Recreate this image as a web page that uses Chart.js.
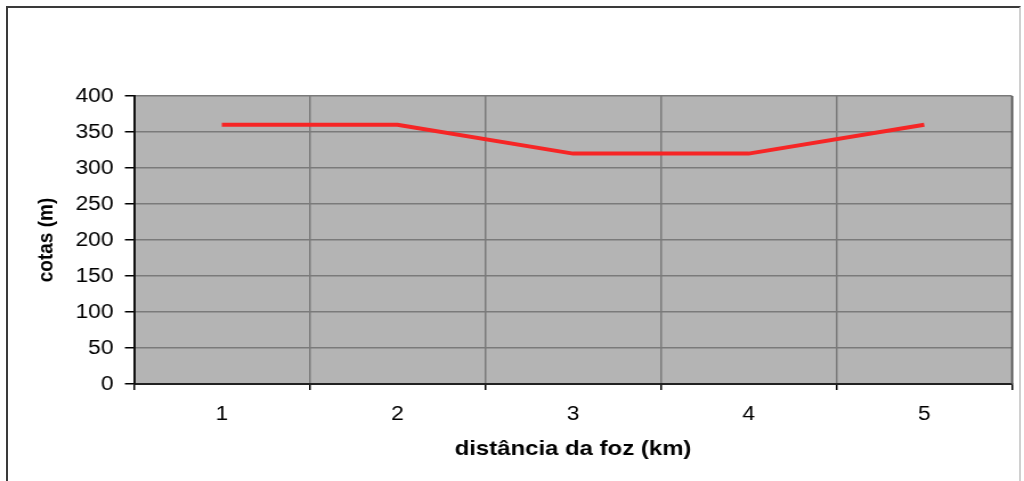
<!DOCTYPE html>
<html>
<head>
<meta charset="utf-8">
<script src="https://cdn.jsdelivr.net/npm/chart.js@4/dist/chart.umd.min.js"></script>
<style>
  html, body { margin: 0; padding: 0; background: #fff; overflow: hidden; }
  #wrap { position: relative; width: 1024px; height: 481px; }
  #frame {
    position: absolute; left: 6px; top: 6px; width: 1011px; height: 490px;
    border-left: 2px solid #3a3a3a; border-top: 2px solid #3a3a3a; border-right: 2px solid #d0d0d0;
  }
  #chart { position: absolute; left: 0; top: 0; }
</style>
</head>
<body>
<div id="wrap">
  <div id="frame"></div>
  <canvas id="chart" width="898" height="481" style="width:1024px;height:481px"></canvas>
</div>
<script>
  // valores
  var distancias = ['1', '2', '3', '4', '5'];
  var cotas = [360, 360, 320, 320, 360];
  var yMin = 0;
  var yMax = 400;
  var yStep = 50;

  // the original is stretched horizontally, canvas is drawn narrower and scaled by css
  var S = 1024 / 898;
  function px(x) { return x / S; }

  var plotBg = {
    id: 'plotBg',
    beforeDraw: function (chart) {
      var a = chart.chartArea;
      var ctx = chart.ctx;
      ctx.save();
      ctx.fillStyle = '#b4b4b4';
      ctx.fillRect(a.left, a.top, a.right - a.left, a.bottom - a.top);
      ctx.restore();
    },
    afterDraw: function (chart) {
      var a = chart.chartArea;
      var ctx = chart.ctx;
      ctx.save();
      ctx.strokeStyle = '#555';
      ctx.lineWidth = 1.5;
      ctx.beginPath();
      ctx.moveTo(a.right, a.top);
      ctx.lineTo(a.right, a.bottom);
      ctx.stroke();
      ctx.restore();
    }
  };

  var ctx = document.getElementById('chart').getContext('2d');
  var chart = new Chart(ctx, {
    type: 'line',
    data: {
      labels: distancias,
      datasets: [{
        data: cotas,
        borderColor: '#f62525',
        borderWidth: 4,
        tension: 0,
        pointRadius: 0,
        fill: false
      }]
    },
    options: {
      responsive: false,
      animation: false,
      devicePixelRatio: 1,
      layout: {
        padding: { left: 0, top: 96, right: 898 - px(1012), bottom: 0 }
      },
      plugins: {
        legend: { display: false },
        tooltip: { enabled: false }
      },
      scales: {
        x: {
          offset: true,
          grid: {
            offset: true,
            color: '#7a7a7a',
            lineWidth: 1.5,
            tickColor: '#000',
            tickLength: 6
          },
          border: { color: '#222', width: 2 },
          ticks: {
            color: '#000',
            padding: 12,
            font: { family: 'Liberation Sans, Arial, sans-serif', size: 20 }
          },
          title: {
            display: true,
            text: 'distância da foz (km)',
            color: '#000',
            padding: { top: 0, bottom: 19 },
            font: { family: 'Liberation Sans, Arial, sans-serif', size: 21, weight: 'bold' }
          },
          afterFit: function (scale) { scale.height = 481 - 384; }
        },
        y: {
          min: yMin,
          max: yMax,
          ticks: {
            stepSize: yStep,
            color: '#000',
            padding: 10,
            font: { family: 'Liberation Sans, Arial, sans-serif', size: 20 }
          },
          grid: {
            color: '#7a7a7a',
            lineWidth: 1.5,
            tickColor: '#000',
            tickLength: 8
          },
          border: { color: '#111', width: 2 },
          title: {
            display: true,
            text: 'cotas (m)',
            color: '#000',
            padding: { top: 29, bottom: 0 },
            font: { family: 'Liberation Sans, Arial, sans-serif', size: 19, weight: 'bold' }
          },
          afterFit: function (scale) { scale.width = px(134); }
        }
      }
    },
    plugins: [plotBg]
  });
</script>
</body>
</html>
